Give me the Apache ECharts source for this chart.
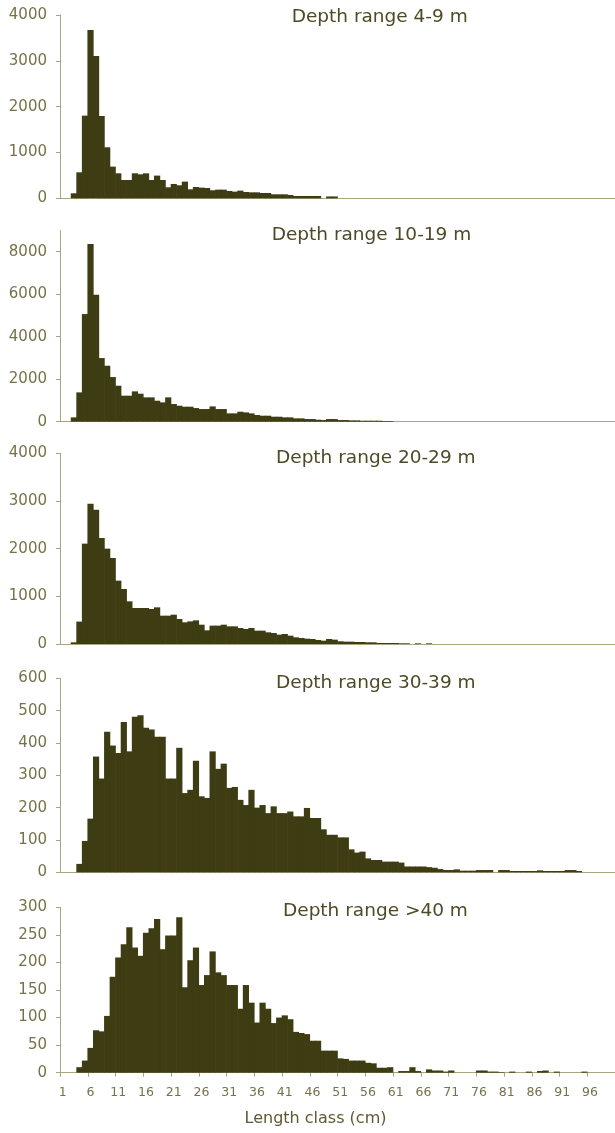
<!DOCTYPE html>
<html>
<head>
<meta charset="utf-8">
<script src="https://cdn.jsdelivr.net/npm/echarts@6/dist/echarts.min.js"></script>
<style>
  html, body { margin: 0; padding: 0; background: #ffffff; }
  #chart { width: 615px; height: 1133px; }
</style>
</head>
<body>
<div id="chart"></div>
<script>
// Length classes (cm), one bar per 1-cm class
const lengthClasses = [];
for (let c = 1; c <= 100; c++) lengthClasses.push(String(c));

// Number of fish per length class, by depth range (class 1 first)
const depth4to9 = [0, 0, 109, 567, 1804, 3673, 3105, 1796, 1113, 691,
  545, 400, 400, 545, 524, 545, 400, 495, 400, 240,
  313, 284, 364, 196, 247, 233, 225, 175, 189, 189,
  160, 145, 167, 138, 130, 130, 116, 116, 87, 87,
  87, 73, 51, 51, 51, 51, 51, 0, 40, 40];

const depth10to19 = [0, 0, 204, 1380, 5067, 8360, 5976, 2996, 2635, 2102,
  1694, 1224, 1224, 1427, 1318, 1145, 1145, 988, 910, 1145,
  831, 753, 706, 706, 643, 596, 596, 721, 596, 596,
  392, 392, 470, 439, 392, 314, 282, 282, 235, 235,
  204, 204, 157, 157, 125, 125, 94, 78, 125, 125,
  78, 78, 63, 63, 47, 47, 47, 47, 31, 31];

const depth20to29 = [0, 0, 35, 470, 2105, 2944, 2818, 2224, 2000, 1804,
  1329, 1154, 895, 755, 755, 755, 734, 769, 594, 594,
  615, 524, 455, 475, 496, 405, 287, 385, 385, 405,
  370, 370, 336, 315, 336, 280, 280, 245, 231, 196,
  210, 175, 140, 126, 112, 105, 84, 70, 105, 91,
  56, 49, 49, 42, 42, 35, 35, 21, 21, 21,
  21, 14, 14, 0, 14, 0, 14];

const depth30to39 = [0, 0, 0, 26, 97, 166, 358, 290, 435, 392,
  369, 465, 374, 481, 486, 447, 442, 419, 419, 290,
  290, 385, 245, 255, 345, 235, 230, 374, 320, 336,
  261, 264, 224, 208, 255, 200, 208, 183, 204, 183,
  183, 188, 173, 173, 199, 168, 168, 133, 116, 116,
  108, 108, 71, 61, 64, 43, 38, 38, 33, 33,
  33, 30, 18, 18, 18, 18, 16, 14, 10, 7,
  7, 9, 5, 5, 5, 7, 7, 7, 0, 7,
  7, 4, 4, 4, 4, 4, 6, 4, 4, 4,
  4, 7, 7, 4];

const depthOver40 = [0, 0, 0, 10, 22, 45, 77, 75, 103, 174,
  209, 233, 264, 227, 212, 254, 262, 279, 224, 249,
  249, 282, 155, 204, 227, 159, 177, 220, 182, 177,
  159, 159, 116, 159, 127, 91, 127, 116, 90, 100,
  104, 97, 74, 72, 70, 58, 58, 40, 40, 40,
  26, 25, 22, 22, 22, 18, 17, 9, 9, 10,
  0, 3, 3, 10, 3, 0, 6, 4, 4, 2,
  4, 0, 0, 0, 0, 4, 4, 2, 2, 1,
  0, 2, 0, 0, 2, 0, 3, 4, 0, 2,
  0, 0, 0, 0, 2];

const panelTitles = ['Depth range 4-9 m', 'Depth range 10-19 m', 'Depth range 20-29 m',
  'Depth range 30-39 m', 'Depth range >40 m'];
const panelSeries = [depth4to9, depth10to19, depth20to29, depth30to39, depthOver40];

// y-axis ranges and tick labels per panel
const yAxisMax = [4000, 9000, 4000, 600, 300];
const yAxisStep = [1000, 2000, 1000, 100, 50];
const yTickLabels = [
  [0, 1000, 2000, 3000, 4000],
  [0, 2000, 4000, 6000, 8000],
  [0, 1000, 2000, 3000, 4000],
  [0, 100, 200, 300, 400, 500, 600],
  [0, 50, 100, 150, 200, 250, 300]
];
const xAxisTitle = 'Length class (cm)';

// Layout of the stacked panels (pixels)
const panelBoxes = [
  { top: 15, height: 183.3 },
  { top: 230.5, height: 191.2 },
  { top: 453.3, height: 190.7 },
  { top: 678.3, height: 194 },
  { top: 907.3, height: 165.4 }
];
const titleSpots = [
  { left: 291.7, top: 8 },
  { left: 271.7, top: 226 },
  { left: 276, top: 449 },
  { left: 276, top: 674 },
  { left: 283, top: 902 }
];

const FONT = 'DejaVu Sans';
const BAR_COLOR = '#3e3c12';
const AXIS_COLOR = '#a8a581';
const LABEL_COLOR = '#76724a';
const TITLE_COLOR = '#4d4a25';

const last = panelSeries.length - 1;

// empty classes get no bar at all
const toBars = arr => arr.map(v => (v > 0 ? v : '-'));

const option = {
  backgroundColor: '#ffffff',
  animation: false,
  title: panelTitles.map((t, i) => ({
    text: t,
    left: titleSpots[i].left,
    top: titleSpots[i].top,
    padding: 0,
    textStyle: { fontFamily: FONT, fontSize: 18.5, fontWeight: 'normal', color: TITLE_COLOR }
  })),
  grid: panelBoxes.map(b => ({ left: 60, width: 557, top: b.top, height: b.height, containLabel: false })),
  xAxis: panelSeries.map((_, i) => ({
    type: 'category',
    gridIndex: i,
    data: lengthClasses,
    boundaryGap: true,
    axisLine: { show: true, lineStyle: { color: AXIS_COLOR, width: 1 } },
    axisTick: { show: i === last, interval: 4, length: 4, lineStyle: { color: AXIS_COLOR } },
    axisLabel: { show: i === last, interval: 4, margin: 14, fontFamily: FONT, fontSize: 12.5, color: LABEL_COLOR },
    splitLine: { show: false },
    name: i === last ? xAxisTitle : '',
    nameLocation: 'middle',
    nameGap: 38,
    nameTextStyle: { fontFamily: FONT, fontSize: 16, color: '#5d5932', padding: [0, 44, 0, 0] }
  })),
  yAxis: panelSeries.map((_, i) => ({
    type: 'value',
    gridIndex: i,
    min: 0,
    max: yAxisMax[i],
    interval: yAxisStep[i],
    axisLine: { show: true, lineStyle: { color: AXIS_COLOR, width: 1 } },
    axisTick: { show: true, length: 4, lineStyle: { color: AXIS_COLOR }, customValues: yTickLabels[i] },
    axisLabel: {
      margin: 13, fontFamily: FONT, fontSize: 15, color: LABEL_COLOR,
      customValues: yTickLabels[i],
      formatter: v => String(v)
    },
    splitLine: { show: false }
  })),
  series: panelSeries.map((data, i) => ({
    type: 'bar',
    name: panelTitles[i],
    xAxisIndex: i,
    yAxisIndex: i,
    data: toBars(data),
    // touching columns: a hair wider than the 5.57px class band so neighbours overlap
    barWidth: 6.2,
    barGap: '-100%',
    itemStyle: { color: BAR_COLOR },
    silent: true
  }))
};

const chart = echarts.init(document.getElementById('chart'), null, { renderer: 'canvas' });
chart.setOption(option);
</script>
</body>
</html>
